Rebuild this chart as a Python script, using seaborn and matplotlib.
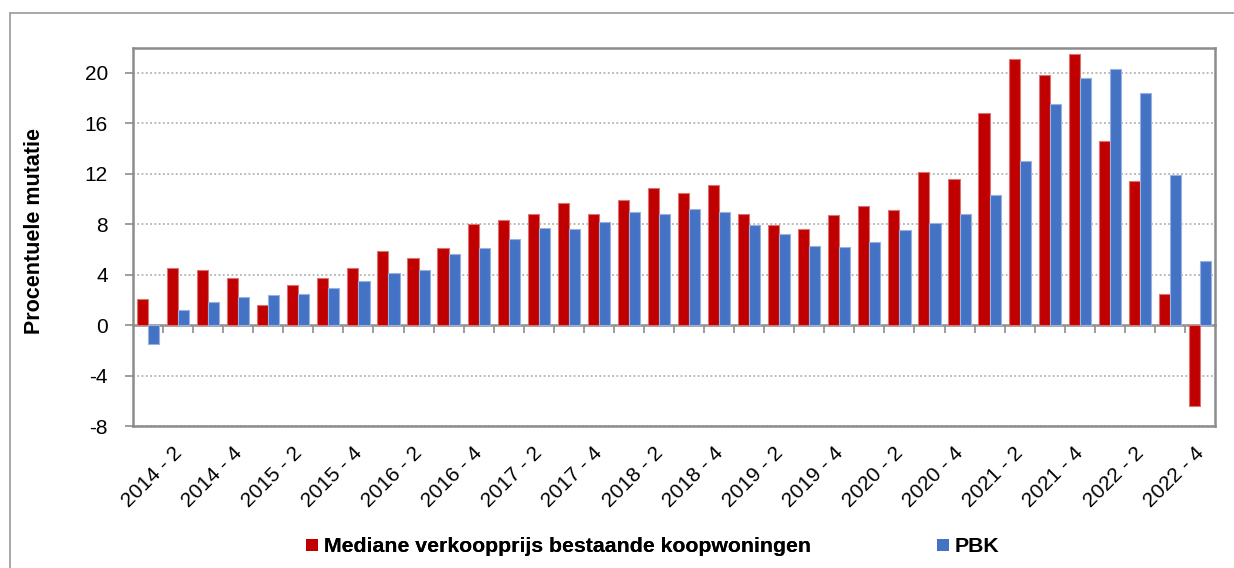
import numpy as np
import pandas as pd
import matplotlib
matplotlib.use("Agg")
import matplotlib.pyplot as plt
import matplotlib.transforms as mtransforms
import seaborn as sns
from matplotlib.lines import Line2D
from matplotlib.patches import Patch
from matplotlib.colors import to_rgb

# ---------------- data ----------------
years = [2014, 2015, 2016, 2017, 2018, 2019, 2020, 2021, 2022]
quarters_in_year = [1, 2, 3, 4]
quarters = [f"{y} - {q}" for y in years for q in quarters_in_year]

mediane = [2.1, 4.5, 4.4, 3.7, 1.6, 3.2, 3.7, 4.5,
           5.9, 5.3, 6.1, 8.0, 8.3, 8.8, 9.7, 8.8,
           9.9, 10.9, 10.5, 11.1, 8.8, 7.9, 7.6, 8.7,
           9.4, 9.1, 12.1, 11.6, 16.8, 21.1, 19.8, 21.5,
           14.6, 11.4, 2.5, -6.4]
pbk = [-1.5, 1.2, 1.8, 2.2, 2.4, 2.5, 2.9, 3.5,
       4.1, 4.4, 5.6, 6.1, 6.8, 7.7, 7.6, 8.2,
       9.0, 8.8, 9.2, 9.0, 7.9, 7.2, 6.3, 6.2,
       6.6, 7.5, 8.1, 8.8, 10.3, 13.0, 17.5, 19.6,
       20.3, 18.4, 11.9, 5.1]
series_names = ["Mediane verkoopprijs bestaande koopwoningen", "PBK"]
yticks = [-8, -4, 0, 4, 8, 12, 16, 20]
ylabel = "Procentuele mutatie"

colors = ["#C00000", "#4472C4"]
gray = "#8C8C8C"

df = pd.DataFrame({
    "kwartaal": quarters * 2,
    "waarde": mediane + pbk,
    "reeks": [series_names[0]] * len(quarters) + [series_names[1]] * len(quarters),
})

# ---------------- figure ----------------
sns.set_theme(style="white")
plt.rcParams["font.family"] = ["Liberation Sans", "DejaVu Sans"]
for k in ["text.color", "axes.labelcolor", "xtick.color", "ytick.color"]:
    plt.rcParams[k] = "black"

W, H = 1234, 568
fig = plt.figure(figsize=(W / 100, H / 100), dpi=100)
ax = fig.add_axes([133 / W, 1 - 426 / H, (1215 - 133) / W, (426 - 47.5) / H])

sns.barplot(data=df, x="kwartaal", y="waarde", hue="reeks", order=quarters,
            hue_order=series_names, palette=colors, width=0.74, gap=0,
            legend=False, ax=ax, linewidth=0.8, saturation=1)

for p in ax.patches:
    fc = np.array(to_rgb(p.get_facecolor()))
    p.set_edgecolor(tuple(fc + (1 - fc) * 0.45))

ax.set_xlim(-0.5, len(quarters) - 0.5)
ax.set_ylim(-8, 22)
ax.set_yticks(yticks)
ax.set_yticklabels([str(v) for v in yticks], fontsize=15)
ax.set_xlabel("")
ax.set_ylabel("")

ax.yaxis.grid(True, linestyle=(0, (1.2, 1.6)), color="#A6A6A6", linewidth=1.1)
ax.xaxis.grid(False)
ax.set_axisbelow(True)

for s in ax.spines.values():
    s.set_visible(True)
    s.set_color(gray)
    s.set_linewidth(1.8)

ax.tick_params(axis="y", direction="out", length=6, width=1.2, color=gray,
               left=True, pad=12, labelcolor="black")

idx = list(range(1, len(quarters), 2))
ax.set_xticks(idx)
ax.set_xticklabels([quarters[i] for i in idx], rotation=45, ha="right",
                   rotation_mode="anchor", fontsize=15)
ax.tick_params(axis="x", length=0, pad=12.5, labelcolor="black")
shift = mtransforms.ScaledTranslation(-6 / 100, 0, fig.dpi_scale_trans)
for lbl in ax.get_xticklabels():
    lbl.set_transform(lbl.get_transform() + shift)

# zero axis with category-boundary ticks
zero_frac = (0 - (-8)) / (22 - (-8))
sec = ax.secondary_xaxis(zero_frac)
sec.set_xticks(np.arange(0.5, len(quarters) - 1, 1.0))
sec.tick_params(axis="x", direction="out", length=6, width=1.2, color=gray,
                labelbottom=False, labeltop=False, bottom=True, top=False)
sec.spines["bottom"].set_color(gray)
sec.spines["bottom"].set_linewidth(1.8)
sec.spines["top"].set_visible(False)

# y label
fig.text(35 / W, 1 - 231 / H, ylabel, rotation=90, ha="center", va="center",
         fontsize=15.5, fontweight="bold")

# legend
handles = [Patch(facecolor=c, edgecolor="none") for c in colors]
common = dict(frameon=False, prop={"size": 15.3, "weight": "bold"},
              handlelength=0.55, handleheight=0.55, handletextpad=0.3,
              borderaxespad=0, borderpad=0, loc="center left")
leg1 = fig.legend([handles[0]], [series_names[0]],
                  bbox_to_anchor=(306 / W, 1 - 547 / H), **common)
leg2 = fig.legend([handles[1]], [series_names[1]],
                  bbox_to_anchor=(937 / W, 1 - 547 / H), **common)
fig.add_artist(leg1)

# outer chart border (partially visible)
fig.add_artist(Line2D([10 / W, 1], [1 - 13 / H, 1 - 13 / H], transform=fig.transFigure,
                      color="#A0A0A0", linewidth=1.3))
fig.add_artist(Line2D([10 / W, 10 / W], [0, 1 - 13 / H], transform=fig.transFigure,
                      color="#A0A0A0", linewidth=1.3))

fig.savefig("out.png", dpi=100, facecolor="white")
